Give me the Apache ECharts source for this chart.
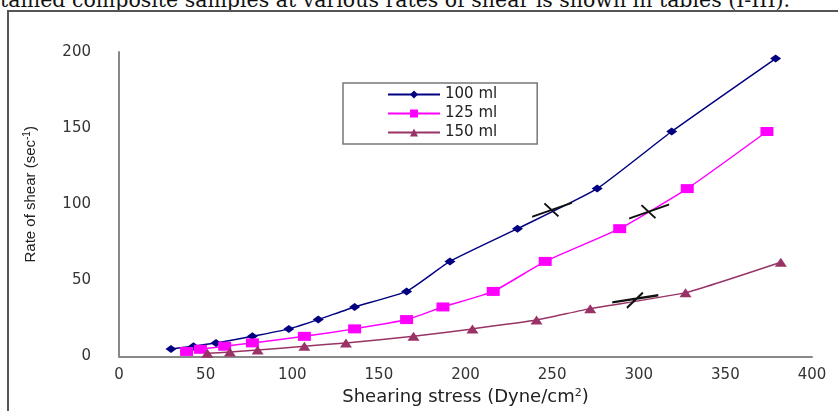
<!DOCTYPE html>
<html lang="en">
<head>
    <meta charset="UTF-8">
    <script type="text/javascript" src="https://cdn.jsdelivr.net/npm/echarts@6/dist/echarts.min.js"></script>
    <title>Rate of shear</title>
    <style type="text/css">
        html, body {
            margin: 0;
            padding: 0;
            width: 838px;
            height: 411px;
            overflow: hidden;
            background: #fff;
        }

        #caption {
            position: absolute;
            left: 0;
            top: -10px;
            font-family: "DejaVu Serif", serif;
            font-size: 20.5px;
            line-height: 21px;
            color: #111;
            white-space: nowrap;
        }

        #frame {
            position: absolute;
            left: 7px;
            top: 10px;
            width: 900px;
            height: 500px;
            border: 2px solid #555;
        }

        #chart {
            position: absolute;
            left: 0;
            top: 0;
            width: 838px;
            height: 411px;
        }
    </style>
</head>

<body>
<div id="caption">tained composite samples at various rates of shear is shown in tables (I-III).</div>
<div id="frame"></div>
<div id="chart"></div>
<script type="text/javascript">
    // values
    const stress100 = [30, 43, 56, 77, 98, 115, 136, 166, 191, 230, 276, 319, 379];
    const rate100 = [5, 6.8, 9, 13.3, 18.2, 24.3, 32.6, 42.8, 62.5, 84, 110.3, 147.8, 195.7];
    const stress125 = [39, 47, 61, 77, 107, 136, 166, 187, 216, 246, 289, 328, 374];
    const rate125 = [3.4, 4.8, 6.8, 9, 13.3, 18.2, 24.3, 32.6, 42.8, 62.5, 84, 110.3, 147.8];
    const stress150 = [51, 64, 80, 107, 131, 170, 204, 241, 272, 327, 382];
    const rate150 = [2.2, 3, 4.3, 6.8, 9, 13.3, 18.2, 24, 31.5, 42, 62];
    const seriesNames = ['100 ml', '125 ml', '150 ml'];
    const xTicks = {min: 0, max: 400, interval: 50};
    const yTicks = {min: 0, max: 200, interval: 50};
    // hand drawn crosses on the curves
    const crossMarks = [[250, 96.4], [306, 95.3], [298, 37]];

    const crossPath = 'path://M0,14 L40,0 L40,2 L0,16 Z M13,1 L27,14 L25.6,15.2 L11.6,2.2 Z';
    const crossFlat = 'path://M0,10 L46,4 L46,6 L0,12 Z M14,15 L30,2 L31.2,3.4 L15.2,16.4 Z';

    let chart = echarts.init(document.getElementById('chart'));

    function pairs(xs, ys) {
        return xs.map((x, i) => [x, ys[i]]);
    }

    let option = {
        animation: false,
        textStyle: {
            fontFamily: 'DejaVu Sans'
        },
        grid: {
            left: 119,
            top: 52,
            width: 693,
            height: 305
        },
        legend: {
            orient: 'vertical',
            left: 343,
            top: 83,
            width: 160,
            padding: [4, 40, 4, 44],
            itemGap: 4,
            itemWidth: 52,
            itemHeight: 10,
            borderColor: '#777',
            borderWidth: 1.5,
            textStyle: {
                fontSize: 15,
                color: '#222'
            },
            data: seriesNames
        },
        xAxis: {
            type: 'value',
            min: xTicks.min,
            max: xTicks.max,
            interval: xTicks.interval,
            splitLine: {show: false},
            axisTick: {show: false},
            axisLine: {lineStyle: {color: '#888', width: 2}},
            axisLabel: {
                margin: 11,
                fontSize: 15,
                color: '#333'
            },
            name: 'Shearing stress (Dyne/cm{sup|2})',
            nameLocation: 'middle',
            nameGap: 30,
            nameTextStyle: {
                fontSize: 18,
                color: '#222',
                rich: {
                    sup: {fontSize: 11, verticalAlign: 'top', color: '#222', padding: [0, 0, 8, 0]}
                }
            }
        },
        yAxis: {
            type: 'value',
            min: yTicks.min,
            max: yTicks.max,
            interval: yTicks.interval,
            splitLine: {show: false},
            axisTick: {show: false},
            axisLine: {show: true, lineStyle: {color: '#888', width: 2}},
            axisLabel: {
                margin: 28,
                fontSize: 15,
                color: '#333'
            },
            name: 'Rate of shear (sec{sup|-1})',
            nameLocation: 'middle',
            nameGap: 79,
            nameTextStyle: {
                fontFamily: 'Liberation Sans',
                fontSize: 15,
                color: '#222',
                padding: [0, 0, 0, 20],
                rich: {
                    sup: {fontFamily: 'Liberation Sans', fontSize: 10, color: '#222', padding: [0, 0, 8, 0]}
                }
            }
        },
        series: [
            {
                name: seriesNames[0],
                type: 'line',
                smooth: 0.15,
                symbol: 'diamond',
                symbolSize: [11, 8],
                itemStyle: {color: '#000080'},
                lineStyle: {color: '#000080', width: 1.5},
                data: pairs(stress100, rate100),
                markPoint: {
                    symbol: crossPath,
                    symbolSize: [40, 16],
                    itemStyle: {color: '#111'},
                    label: {show: false},
                    data: [{coord: crossMarks[0]}, {coord: crossMarks[1]}, {coord: crossMarks[2], symbol: crossFlat, symbolSize: [46, 17]}]
                }
            },
            {
                name: seriesNames[1],
                type: 'line',
                smooth: 0.15,
                symbol: 'rect',
                symbolSize: [13, 9],
                itemStyle: {color: '#ff00ff'},
                lineStyle: {color: '#ff00ff', width: 1.5},
                data: pairs(stress125, rate125)
            },
            {
                name: seriesNames[2],
                type: 'line',
                smooth: 0.15,
                symbol: 'triangle',
                symbolSize: [12, 9],
                itemStyle: {color: '#993366'},
                lineStyle: {color: '#993366', width: 1.5},
                data: pairs(stress150, rate150)
            }
        ]
    };
    chart.setOption(option);
</script>
</body>
</html>
